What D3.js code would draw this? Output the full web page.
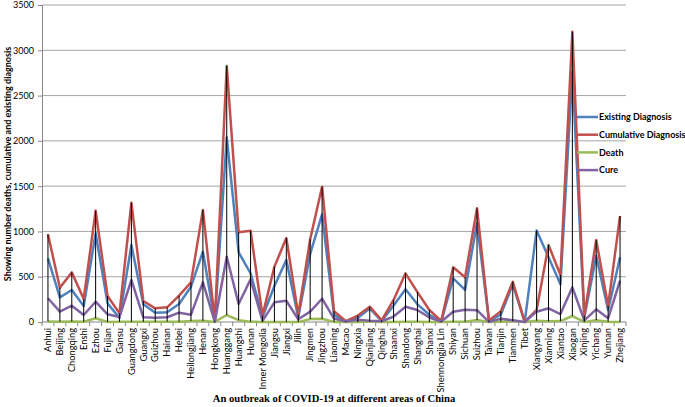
<!DOCTYPE html>
<html>
<head>
<meta charset="utf-8">
<script src="https://cdn.jsdelivr.net/npm/d3@7"></script>
<style>
  body { margin: 0; background: #fff; }
  svg { display: block; }
</style>
</head>
<body>
<svg id="chart" width="685" height="407"></svg>
<script>
// areas along the x axis
const areas = ["Anhui", "Beijing", "Chongqing", "Enshi", "Ezhou", "Fujian", "Gansu", "Guangdong",
  "Guangxi", "Guizhou", "Hainan", "Hebei", "Heilongjiang", "Henan", "Hongkong", "Huanggang",
  "Huangshi", "Hunan", "Inner Mongolia", "Jiangsu", "Jiangxi", "Jilin", "Jingmen", "Jingzhou",
  "Liaoning", "Macao", "Ningxia", "Qianjiang", "Qinghai", "Shaanxi", "Shandong", "Shanghai",
  "Shanxi", "Shennongjia Lin", "Shiyan", "Sichuan", "Suizhou", "Taiwan", "Tianjin", "Tianmen",
  "Tibet", "Xiangyang", "Xianning", "Xiantao", "Xiaogan", "Xinjing", "Yichang", "Yunnan", "Zhejiang"];

// values
const existing = [703, 272, 353, 177, 979, 206, 45, 850, 195, 103, 107, 199, 390, 776, 8, 2039,
  769, 537, 55, 397, 685, 50, 751, 1189, 78, 5, 46, 150, 10, 183, 361, 195,
  80, 5, 482, 355, 1090, 15, 82, 415, 1, 1010, 715, 416, 2764, 50, 729, 132, 714];
const cumulative = [968, 379, 548, 254, 1229, 287, 95, 1317, 232, 151, 162, 291, 438, 1237, 10, 2827,
  990, 1008, 70, 611, 927, 82, 913, 1494, 120, 10, 71, 169, 18, 243, 537, 330,
  132, 11, 604, 495, 1255, 18, 120, 445, 1, 133, 850, 519, 3205, 70, 905, 177, 1170];
const death = [6, 4, 5, 3, 41, 1, 2, 2, 2, 2, 4, 3, 12, 13, 1, 77,
  20, 4, 0, 0, 1, 1, 32, 35, 1, 0, 0, 5, 0, 1, 2, 2,
  0, 0, 2, 3, 22, 1, 3, 10, 0, 15, 8, 10, 66, 1, 20, 2, 1];
const cure = [262, 114, 180, 77, 224, 85, 55, 464, 52, 48, 52, 103, 81, 438, 2, 721,
  199, 471, 12, 217, 235, 30, 114, 257, 38, 5, 25, 15, 8, 60, 169, 133,
  50, 6, 114, 135, 130, 2, 35, 20, 0, 114, 151, 88, 383, 18, 140, 41, 456];

const seriesNames = ["Existing Diagnosis", "Cumulative Diagnosis", "Death", "Cure"];
const seriesValues = [existing, cumulative, death, cure];
const colors = ["#4F81BD", "#C0504D", "#9BBB59", "#8064A2"];
const yTicks = [0, 500, 1000, 1500, 2000, 2500, 3000, 3500];

const svg = d3.select("#chart");
const plotLeft = 42, plotRight = 626, plotTop = 5, plotBottom = 322;

const x = d3.scalePoint().domain(areas).range([plotLeft, plotRight]).padding(0.5);
const y = d3.scaleLinear().domain([0, 3500]).range([plotBottom, plotTop]);

// gridlines
svg.append("g")
  .selectAll("line")
  .data(yTicks.slice(1))
  .enter()
  .append("line")
  .attr("x1", plotLeft).attr("x2", plotRight)
  .attr("y1", d => y(d)).attr("y2", d => y(d))
  .attr("stroke", "#a6a6a6").attr("stroke-width", 1);

// y axis
const yAxis = svg.append("g")
  .attr("transform", `translate(${plotLeft},0)`)
  .call(d3.axisLeft(y).tickValues(yTicks).tickSize(4).tickPadding(4).tickFormat(d3.format("d")));
yAxis.select(".domain").attr("stroke", "#868686");
yAxis.selectAll(".tick line").attr("stroke", "#868686");
yAxis.selectAll("text").attr("font-family", "Lato, sans-serif").attr("font-size", 9).attr("fill", "#000");

// x axis, ticks between the categories
const step = x.step();
const xAxis = svg.append("g").attr("transform", `translate(0,${plotBottom})`);
xAxis.append("line")
  .attr("x1", plotLeft).attr("x2", plotRight)
  .attr("stroke", "#868686");
xAxis.selectAll("line.tk")
  .data(d3.range(areas.length + 1))
  .enter()
  .append("line")
  .attr("class", "tk")
  .attr("x1", i => plotLeft + i * step).attr("x2", i => plotLeft + i * step)
  .attr("y1", 0).attr("y2", 4)
  .attr("stroke", "#868686");
xAxis.selectAll("text")
  .data(areas)
  .enter()
  .append("text")
  .attr("transform", d => `translate(${x(d) + 3.2},6) rotate(-90)`)
  .attr("text-anchor", "end")
  .attr("font-family", "Lato, sans-serif")
  .attr("font-size", 9.3)
  .text(d => d);

// series lines
const line = d3.line().x((d, i) => x(areas[i])).y(d => y(d));
svg.append("g")
  .selectAll("path")
  .data(seriesValues)
  .enter()
  .append("path")
  .attr("d", d => line(d))
  .attr("fill", "none")
  .attr("stroke", (d, i) => colors[i])
  .attr("stroke-width", 2.5)
  .attr("stroke-linejoin", "round");

// high-low lines
svg.append("g")
  .selectAll("line")
  .data(areas)
  .enter()
  .append("line")
  .attr("x1", d => x(d)).attr("x2", d => x(d))
  .attr("y1", (d, i) => y(d3.max(seriesValues, s => s[i])))
  .attr("y2", (d, i) => y(d3.min(seriesValues, s => s[i])))
  .attr("stroke", "#000").attr("stroke-width", 1);

// legend
const legend = svg.append("g");
seriesNames.forEach((name, i) => {
  const ly = 117 + i * 17.7;
  legend.append("line")
    .attr("x1", 577).attr("x2", 598)
    .attr("y1", ly).attr("y2", ly)
    .attr("stroke", colors[i]).attr("stroke-width", 2.5);
  legend.append("text")
    .attr("x", 599).attr("y", ly + 3.3)
    .attr("font-family", "Lato, sans-serif")
    .attr("font-weight", "bold")
    .attr("font-size", 9)
    .text(name);
});

// axis titles
svg.append("text")
  .attr("transform", `translate(11,164) rotate(-90)`)
  .attr("text-anchor", "middle")
  .attr("font-family", "Lato, sans-serif")
  .attr("font-weight", "bold")
  .attr("font-size", 9)
  .text("Showing number deaths, cumulative and existing diagnosis");

svg.append("text")
  .attr("x", 334).attr("y", 402)
  .attr("text-anchor", "middle")
  .attr("font-family", "'Liberation Serif', serif")
  .attr("font-weight", "bold")
  .attr("font-size", 10.6)
  .text("An outbreak of COVID-19 at different areas of China");
</script>
</body>
</html>
